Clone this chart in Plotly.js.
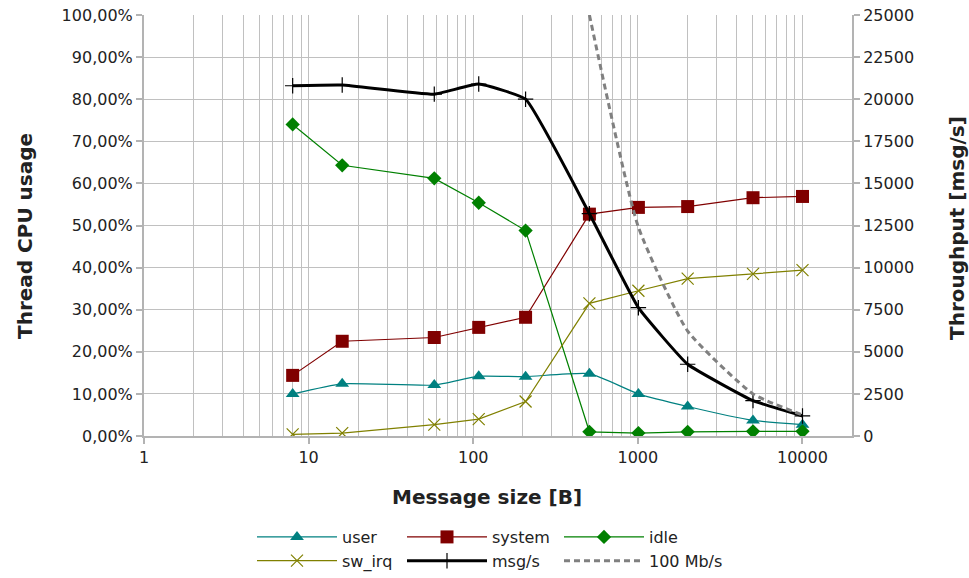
<!DOCTYPE html>
<html>
<head>
<meta charset="utf-8">
<script src="https://cdn.plot.ly/plotly-3.0.1.min.js"></script>
<style>html,body{margin:0;padding:0;background:#fff;}#chart{width:969px;height:578px;}</style>
</head>
<body>
<div id="chart"></div>
<script>
// Message sizes [B]
const sizes = [8, 16, 58, 108, 208, 508, 1008, 2008, 5008, 10008];
// Thread CPU usage [%]
const user   = [10.0, 12.4, 12.1, 14.2, 14.1, 14.8, 10.0, 7.0, 3.7, 2.7];
const system = [14.4, 22.5, 23.4, 25.8, 28.2, 52.7, 54.3, 54.5, 56.6, 56.9];
const idle   = [74.0, 64.3, 61.2, 55.4, 48.8, 1.0, 0.7, 1.0, 1.1, 1.1];
const swIrq  = [0.4, 0.7, 2.7, 4.0, 8.2, 31.5, 34.5, 37.4, 38.5, 39.4];
// Throughput [msg/s]
const msgps  = [20800, 20840, 20300, 20900, 20000, 13200, 7620, 4260, 2100, 1190];
// 100 Mb/s reference line
const mbSizes = [508, 1008, 2008, 5008, 10008];
const mb100   = [25000, 12400, 6230, 2500, 1250];

const seriesNames = ['user', 'system', 'idle', 'sw_irq', 'msg/s', '100 Mb/s'];
const xTickVals = [1, 10, 100, 1000, 10000];
const xTickText = ['1', '10', '100', '1000', '10000'];
const titles = {x: 'Message size [B]', y: 'Thread CPU usage', y2: 'Throughput [msg/s]'};

const FONT = 'DejaVu Sans, sans-serif';
const GRID = '#c0c0c0';
const AXIS = '#b3b3b3';
const TITLE_FONT = {family: FONT, size: 20, color: '#222', weight: 'bold'};

const traces = [
  {x: sizes, y: user, name: seriesNames[0], mode: 'lines+markers', legend: 'legend',
   line: {color: '#008080', width: 1.2, shape: 'spline', smoothing: 0.5},
   marker: {symbol: 'triangle-up', size: 12, color: '#008080'}},
  {x: sizes, y: system, name: seriesNames[1], mode: 'lines+markers', legend: 'legend2',
   line: {color: '#800000', width: 1.2},
   marker: {symbol: 'square', size: 13, color: '#800000'}},
  {x: sizes, y: idle, name: seriesNames[2], mode: 'lines+markers', legend: 'legend3',
   line: {color: '#008000', width: 1.2},
   marker: {symbol: 'diamond', size: 11, color: '#008000'}},
  {x: sizes, y: swIrq, name: seriesNames[3], mode: 'lines+markers', legend: 'legend',
   line: {color: '#808000', width: 1.2},
   marker: {symbol: 'x-thin', size: 12, color: '#808000', line: {color: '#808000', width: 1.2}}},
  {x: sizes, y: msgps, name: seriesNames[4], mode: 'lines+markers', yaxis: 'y2', legend: 'legend2',
   line: {color: '#000000', width: 3, shape: 'spline', smoothing: 0.35},
   marker: {symbol: 'cross-thin', size: 11, color: '#000000', line: {color: '#000000', width: 1.2}}},
  {x: mbSizes, y: mb100, name: seriesNames[5], mode: 'lines', yaxis: 'y2', legend: 'legend3',
   line: {color: '#808080', width: 3, dash: '6px,4px', shape: 'spline', smoothing: 0.5}}
];

const legendCommon = {
  orientation: 'v', xref: 'container', yref: 'container', xanchor: 'left', yanchor: 'top',
  font: {family: FONT, size: 16, color: '#222'}, itemwidth: 80,
  bgcolor: 'rgba(0,0,0,0)', tracegroupgap: 0, itemclick: false
};
const legTop = 1 - 520 / 578;

const layout = {
  width: 969, height: 578,
  margin: {l: 144, r: 117, t: 15, b: 142, autoexpand: false},
  paper_bgcolor: '#ffffff', plot_bgcolor: '#ffffff',
  separators: ',.',
  font: {family: FONT, size: 16, color: '#222'},
  showlegend: true,
  xaxis: {
    type: 'log', range: [0, Math.log10(20000)],
    tickvals: xTickVals, ticktext: xTickText,
    showgrid: true, gridcolor: GRID, gridwidth: 1,
    minor: {showgrid: true, gridcolor: GRID, gridwidth: 1, dtick: 'D1', ticks: ''},
    showline: true, linecolor: AXIS, linewidth: 2,
    ticks: 'outside', ticklen: 6, tickcolor: AXIS, tickwidth: 2,
    tickfont: {family: FONT, size: 16, color: '#222'},
    zeroline: false
  },
  yaxis: {
    range: [0, 100], dtick: 10, tickformat: '.2f', ticksuffix: '%',
    showgrid: true, gridcolor: GRID, gridwidth: 1,
    showline: true, linecolor: AXIS, linewidth: 2,
    ticks: 'outside', ticklen: 6, tickcolor: AXIS, tickwidth: 2,
    tickfont: {family: FONT, size: 16, color: '#222'},
    zeroline: false
  },
  yaxis2: {
    overlaying: 'y', side: 'right',
    range: [0, 25000], dtick: 2500, tickformat: 'd',
    showgrid: false,
    showline: true, linecolor: AXIS, linewidth: 2,
    ticks: 'outside', ticklen: 6, tickcolor: AXIS, tickwidth: 2,
    tickfont: {family: FONT, size: 16, color: '#222'},
    zeroline: false
  },
  annotations: [
    {text: titles.x, xref: 'paper', yref: 'paper', x: (487 - 144) / 708, y: (436 - 497) / 421,
     xanchor: 'center', yanchor: 'middle', showarrow: false, font: TITLE_FONT},
    {text: titles.y, xref: 'paper', yref: 'paper', x: (25 - 144) / 708, y: (436 - 236) / 421,
     xanchor: 'center', yanchor: 'middle', textangle: -90, showarrow: false, font: TITLE_FONT},
    {text: titles.y2, xref: 'paper', yref: 'paper', x: (957 - 144) / 708, y: (436 - 228) / 421,
     xanchor: 'center', yanchor: 'middle', textangle: -90, showarrow: false, font: TITLE_FONT}
  ],
  legend: Object.assign({}, legendCommon, {x: 252 / 969, y: legTop}),
  legend2: Object.assign({}, legendCommon, {x: 402 / 969, y: legTop}),
  legend3: Object.assign({}, legendCommon, {x: 559 / 969, y: legTop})
};

Plotly.newPlot('chart', traces, layout, {staticPlot: true, displayModeBar: false});
</script>
</body>
</html>
